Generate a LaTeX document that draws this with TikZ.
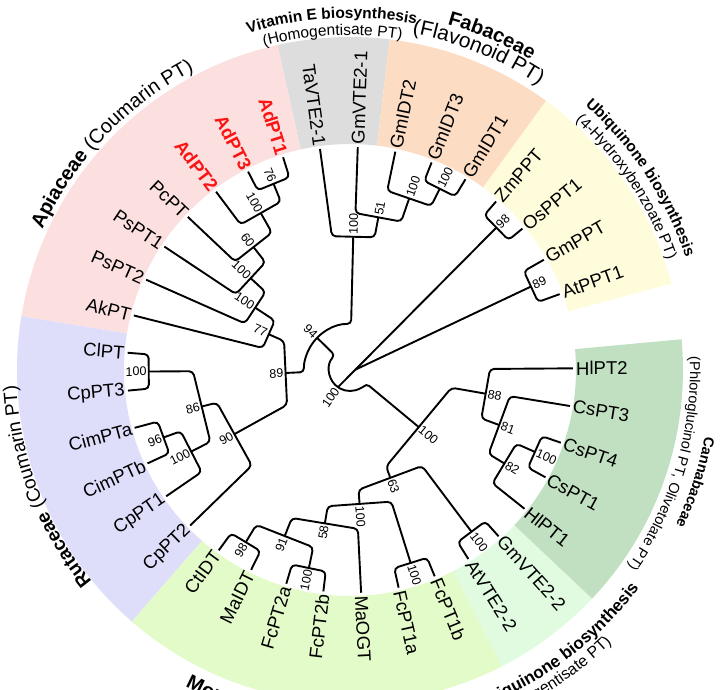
\documentclass[tikz,border=0pt]{standalone}
\usepackage{fontspec}
\setmainfont{Liberation Sans}
\usetikzlibrary{calc, decorations.text}

\definecolor{apiband}{RGB}{252,224,224}
\definecolor{vitband}{RGB}{221,221,221}
\definecolor{fabband}{RGB}{252,221,196}
\definecolor{ubqband}{RGB}{255,252,220}
\definecolor{canband}{RGB}{193,224,193}
\definecolor{hgaband}{RGB}{225,251,225}
\definecolor{morband}{RGB}{227,250,201}
\definecolor{rutband}{RGB}{222,222,250}
\definecolor{adred}{RGB}{250,20,20}

\newcommand{\tipsize}{\fontsize{18.5}{21}\selectfont}
\newcommand{\bssize}{\fontsize{12.5}{14}\selectfont}
\newcommand{\famsize}{\fontsize{20}{24}\selectfont}
\newcommand{\subsize}{\fontsize{15.5}{18}\selectfont}
\newcommand{\cansize}{\fontsize{14.5}{17}\selectfont}

\begin{document}
\begin{tikzpicture}[x=1pt, y=1pt,
    branch/.style={line width=1.9pt, rounded corners=4pt, line join=round},
    tipR/.style={anchor=west, inner sep=3pt, font=\tipsize},
    tipL/.style={anchor=east, inner sep=3pt, font=\tipsize},
    tipAd/.style={tipL, font=\tipsize\bfseries, text=adred},
    bsR/.style={anchor=west, inner sep=2pt, font=\bssize},
    bsL/.style={anchor=east, inner sep=2pt, font=\bssize},
    cladetext/.style={decorate, decoration={text along path, text align=center, text={#1}}}
  ]
  \useasboundingbox (-350,-319) rectangle (370,370);
  \clip (-350,-319) rectangle (370,370);

  % coloured bands
  \fill[vitband] (83.14:226) arc[start angle=83.14, end angle=102.59, radius=226] -- (102.59:333) arc[start angle=102.59, end angle=83.14, radius=333] -- cycle;
  \fill[apiband] (102.59:226) arc[start angle=102.59, end angle=170.70, radius=226] -- (170.70:333) arc[start angle=170.70, end angle=102.59, radius=333] -- cycle;
  \fill[rutband] (170.70:226) arc[start angle=170.70, end angle=229.08, radius=226] -- (229.08:333) arc[start angle=229.08, end angle=170.70, radius=333] -- cycle;
  \fill[morband] (229.08:226) arc[start angle=229.08, end angle=297.19, radius=226] -- (297.19:333) arc[start angle=297.19, end angle=229.08, radius=333] -- cycle;
  \fill[hgaband] (297.19:226) arc[start angle=297.19, end angle=316.65, radius=226] -- (316.65:333) arc[start angle=316.65, end angle=297.19, radius=333] -- cycle;
  \fill[canband] (316.65:226) arc[start angle=316.65, end angle=365.30, radius=226] -- (365.30:333) arc[start angle=365.30, end angle=316.65, radius=333] -- cycle;
  \fill[ubqband] (15.03:226) arc[start angle=15.03, end angle=53.95, radius=226] -- (53.95:333) arc[start angle=53.95, end angle=15.03, radius=333] -- cycle;
  \fill[fabband] (53.95:226) arc[start angle=53.95, end angle=83.14, radius=226] -- (83.14:333) arc[start angle=83.14, end angle=53.95, radius=333] -- cycle;

  % tips
  \node[tipR, rotate=88.00] (GmVTEa) at (88.00:223) {GmVTE2-1};
  \node[tipR, rotate=78.27] (GmIDT2) at (78.27:223) {GmIDT2};
  \node[tipR, rotate=68.54] (GmIDT3) at (68.54:223) {GmIDT3};
  \node[tipR, rotate=58.81] (GmIDT1) at (58.81:223) {GmIDT1};
  \node[tipR, rotate=49.08] (ZmPPT) at (49.08:223) {ZmPPT};
  \node[tipR, rotate=39.35] (OsPPT1) at (39.35:223) {OsPPT1};
  \node[tipR, rotate=29.62] (GmPPT) at (29.62:223) {GmPPT};
  \node[tipR, rotate=19.89] (AtPPT1) at (19.89:223) {AtPPT1};
  \node[tipR, rotate=0.43] (HlPT2) at (0.43:223) {HlPT2};
  \node[tipR, rotate=-9.30] (CsPT3) at (350.70:223) {CsPT3};
  \node[tipR, rotate=-19.03] (CsPT4) at (340.97:223) {CsPT4};
  \node[tipR, rotate=-28.76] (CsPT1) at (331.24:223) {CsPT1};
  \node[tipR, rotate=-38.49] (HlPT1) at (321.51:223) {HlPT1};
  \node[tipR, rotate=-48.22] (GmVTEb) at (311.78:223) {GmVTE2-2};
  \node[tipR, rotate=-57.95] (AtVTE) at (302.05:223) {AtVTE2-2};
  \node[tipR, rotate=-67.68] (FcPT1b) at (292.32:223) {FcPT1b};
  \node[tipR, rotate=-77.41] (FcPT1a) at (282.59:223) {FcPT1a};
  \node[tipR, rotate=-87.14] (MaOGT) at (272.86:223) {MaOGT};
  \node[tipL, rotate=83.14] (FcPT2b) at (263.14:223) {FcPT2b};
  \node[tipL, rotate=73.40] (FcPT2a) at (253.40:223) {FcPT2a};
  \node[tipL, rotate=63.68] (MaIDT) at (243.68:223) {MaIDT};
  \node[tipL, rotate=53.95] (CtIDT) at (233.95:223) {CtIDT};
  \node[tipL, rotate=44.22] (CpPT2) at (224.22:223) {CpPT2};
  \node[tipL, rotate=34.49] (CpPT1) at (214.49:223) {CpPT1};
  \node[tipL, rotate=24.76] (CimPTb) at (204.76:223) {CimPTb};
  \node[tipL, rotate=15.03] (CimPTa) at (195.03:223) {CimPTa};
  \node[tipL, rotate=5.30] (CpPT3) at (185.30:223) {CpPT3};
  \node[tipL, rotate=-4.43] (ClPT) at (175.57:223) {ClPT};
  \node[tipL, rotate=-14.16] (AkPT) at (165.84:223) {AkPT};
  \node[tipL, rotate=-23.89] (PsPT2) at (156.11:223) {PsPT2};
  \node[tipL, rotate=-33.62] (PsPT1) at (146.38:223) {PsPT1};
  \node[tipL, rotate=-43.35] (PcPT) at (136.65:223) {PcPT};
  \node[tipAd, rotate=-53.08] (AdPT2) at (126.92:223) {AdPT2};
  \node[tipAd, rotate=-62.81] (AdPT3) at (117.19:223) {AdPT3};
  \node[tipAd, rotate=-72.54] (AdPT1) at (107.46:223) {AdPT1};
  \node[tipL, rotate=-82.27] (TaVTE) at (97.73:223) {TaVTE2-1};

  % vitamin E and Fabaceae clade
  \coordinate (f31a) at (68.54:203); \coordinate (f31b) at (58.81:203);
  \coordinate (f31) at ($(f31a)!.5!(f31b)$);
  \draw[branch] (GmIDT3.west) -- (f31a) -- (f31b) -- (GmIDT1.west);
  \coordinate (f2a) at (78.27:183); \coordinate (f2b) at (63.68:183);
  \coordinate (f2) at ($(f2a)!.5!(f2b)$);
  \draw[branch] (GmIDT2.west) -- (f2a) -- (f2b) -- (f31);
  \coordinate (v51a) at (88.00:157); \coordinate (v51b) at (70.97:157);
  \coordinate (v51) at ($(v51a)!.5!(v51b)$);
  \draw[branch] (GmVTEa.west) -- (v51a) -- (v51b) -- (f2);
  \coordinate (v1a) at (97.73:135); \coordinate (v1b) at (79.49:135);
  \coordinate (v1) at ($(v1a)!.5!(v1b)$);
  \draw[branch] (TaVTE.east) -- (v1a) -- (v1b) -- (v51);

  % Apiaceae
  \coordinate (a76a) at (107.46:202); \coordinate (a76b) at (117.19:202);
  \coordinate (a76) at ($(a76a)!.5!(a76b)$);
  \draw[branch] (AdPT1.east) -- (a76a) -- (a76b) -- (AdPT3.east);
  \coordinate (aAda) at (112.33:182); \coordinate (aAdb) at (126.92:182);
  \coordinate (aAd) at ($(aAda)!.5!(aAdb)$);
  \draw[branch] (a76) -- (aAda) -- (aAdb) -- (AdPT2.east);
  \coordinate (a60a) at (119.62:158); \coordinate (a60b) at (136.65:158);
  \coordinate (a60) at ($(a60a)!.5!(a60b)$);
  \draw[branch] (aAd) -- (a60a) -- (a60b) -- (PcPT.east);
  \coordinate (aPs1a) at (128.14:137); \coordinate (aPs1b) at (146.38:137);
  \coordinate (aPs1) at ($(aPs1a)!.5!(aPs1b)$);
  \draw[branch] (a60) -- (aPs1a) -- (aPs1b) -- (PsPT1.east);
  \coordinate (aPs2a) at (137.26:115); \coordinate (aPs2b) at (156.11:115);
  \coordinate (aPs2) at ($(aPs2a)!.5!(aPs2b)$);
  \draw[branch] (aPs1) -- (aPs2a) -- (aPs2b) -- (PsPT2.east);
  \coordinate (a77a) at (146.69:90); \coordinate (a77b) at (165.84:90);
  \coordinate (a77) at ($(a77a)!.5!(a77b)$);
  \draw[branch] (aPs2) -- (a77a) -- (a77b) -- (AkPT.east);

  % Rutaceae
  \coordinate (rCla) at (175.57:202); \coordinate (rClb) at (185.30:202);
  \coordinate (rCl) at ($(rCla)!.5!(rClb)$);
  \draw[branch] (ClPT.east) -- (rCla) -- (rClb) -- (CpPT3.east);
  \coordinate (rCima) at (195.03:199); \coordinate (rCimb) at (204.76:199);
  \coordinate (rCim) at ($(rCima)!.5!(rCimb)$);
  \draw[branch] (CimPTa.east) -- (rCima) -- (rCimb) -- (CimPTb.east);
  \coordinate (rCpa) at (199.90:180); \coordinate (rCpb) at (214.49:180);
  \coordinate (rCp) at ($(rCpa)!.5!(rCpb)$);
  \draw[branch] (rCim) -- (rCpa) -- (rCpb) -- (CpPT1.east);
  \coordinate (r86a) at (180.44:157); \coordinate (r86b) at (207.20:157);
  \coordinate (r86) at ($(r86a)!.5!(r86b)$);
  \draw[branch] (rCl) -- (r86a) -- (r86b) -- (rCp);
  \coordinate (r90a) at (193.82:137); \coordinate (r90b) at (224.22:137);
  \coordinate (r90) at ($(r90a)!.5!(r90b)$);
  \draw[branch] (r86) -- (r90a) -- (r90b) -- (CpPT2.east);
  \coordinate (c89a) at (156.26:72); \coordinate (c89b) at (209.02:72);
  \coordinate (c89) at ($(c89a)!.5!(c89b)$);
  \draw[branch] (a77) -- (c89a) -- (c89b) -- (r90);
  \coordinate (n94) at (135.63:46);
  \draw[branch] (v1) -- (88.61:46) arc[start angle=88.61, end angle=182.64, radius=46] -- (c89);

  % ubiquinone (4-hydroxybenzoate PT)
  \coordinate (u98a) at (49.08:205); \coordinate (u98b) at (39.35:205);
  \coordinate (u98) at ($(u98a)!.5!(u98b)$);
  \draw[branch] (ZmPPT.west) -- (u98a) -- (u98b) -- (OsPPT1.west);
  \coordinate (u89a) at (29.62:200); \coordinate (u89b) at (19.89:200);
  \coordinate (u89) at ($(u89a)!.5!(u89b)$);
  \draw[branch] (GmPPT.west) -- (u89a) -- (u89b) -- (AtPPT1.west);

  % Cannabaceae
  \coordinate (h100a) at (340.97:203); \coordinate (h100b) at (331.24:203);
  \coordinate (h100) at ($(h100a)!.5!(h100b)$);
  \draw[branch] (CsPT4.west) -- (h100a) -- (h100b) -- (CsPT1.west);
  \coordinate (h82a) at (336.11:182); \coordinate (h82b) at (321.51:182);
  \coordinate (h82) at ($(h82a)!.5!(h82b)$);
  \draw[branch] (h100) -- (h82a) -- (h82b) -- (HlPT1.west);
  \coordinate (h81a) at (350.70:162); \coordinate (h81b) at (328.81:162);
  \coordinate (h81) at ($(h81a)!.5!(h81b)$);
  \draw[branch] (CsPT3.west) -- (h81a) -- (h81b) -- (h82);
  \coordinate (h88a) at (360.43:140); \coordinate (h88b) at (339.76:140);
  \coordinate (h88) at ($(h88a)!.5!(h88b)$);
  \draw[branch] (HlPT2.west) -- (h88a) -- (h88b) -- (h81);

  % homogentisate PT and Moraceae
  \coordinate (g100a) at (311.78:203); \coordinate (g100b) at (302.05:203);
  \coordinate (g100) at ($(g100a)!.5!(g100b)$);
  \draw[branch] (GmVTEb.west) -- (g100a) -- (g100b) -- (AtVTE.west);
  \coordinate (m98a) at (233.95:202); \coordinate (m98b) at (243.68:202);
  \coordinate (m98) at ($(m98a)!.5!(m98b)$);
  \draw[branch] (CtIDT.east) -- (m98a) -- (m98b) -- (MaIDT.east);
  \coordinate (mF2a) at (253.40:203); \coordinate (mF2b) at (263.14:203);
  \coordinate (mF2) at ($(mF2a)!.5!(mF2b)$);
  \draw[branch] (FcPT2a.east) -- (mF2a) -- (mF2b) -- (FcPT2b.east);
  \coordinate (m91a) at (238.82:181); \coordinate (m91b) at (258.27:181);
  \coordinate (m91) at ($(m91a)!.5!(m91b)$);
  \draw[branch] (m98) -- (m91a) -- (m91b) -- (mF2);
  \coordinate (m58a) at (248.55:159); \coordinate (m58b) at (272.86:159);
  \coordinate (m58) at ($(m58a)!.5!(m58b)$);
  \draw[branch] (m91) -- (m58a) -- (m58b) -- (MaOGT.west);
  \coordinate (mF1a) at (282.59:203); \coordinate (mF1b) at (292.32:203);
  \coordinate (mF1) at ($(mF1a)!.5!(mF1b)$);
  \draw[branch] (FcPT1a.west) -- (mF1a) -- (mF1b) -- (FcPT1b.west);
  \coordinate (mora) at (260.71:138); \coordinate (morb) at (287.46:138);
  \coordinate (mor) at ($(mora)!.5!(morb)$);
  \draw[branch] (m58) -- (mora) -- (morb) -- (mF1);
  \coordinate (n63a) at (274.09:120); \coordinate (n63b) at (306.92:120);
  \coordinate (n63) at ($(n63a)!.5!(n63b)$);
  \draw[branch] (mor) -- (n63a) -- (n63b) -- (g100);
  \coordinate (nRa) at (350.10:103); \coordinate (nRb) at (290.51:103);
  \coordinate (nR) at ($(nRa)!.5!(nRb)$);
  \draw[branch] (h88) -- (nRa) -- (nRb) -- (n63);

  % root
  \coordinate (root) at (235:21);
  \draw[branch] (n94) -- (135.63:21) arc[start angle=135.63, end angle=320.3, radius=21] -- (nR);
  \coordinate (u0) at ($(root)!.11!(u98)$);
  \draw[branch] (root) -- (u98);
  \draw[branch] (u0) -- (u89);

  % support values
  \node[bsR, rotate=63.68] at (f31) {100};
  \node[bsR, rotate=70.97] at (f2) {100};
  \node[bsR, rotate=79.49] at (v51) {51};
  \node[bsR, rotate=88.61] at (v1) {100};
  \node[bsL, rotate=-67.67] at (a76) {76};
  \node[bsL, rotate=-60.38] at (aAd) {100};
  \node[bsL, rotate=-51.86] at (a60) {60};
  \node[bsL, rotate=-42.74] at (aPs1) {100};
  \node[bsL, rotate=-33.31] at (aPs2) {100};
  \node[bsL, rotate=-23.74] at (a77) {77};
  \node[bsL, rotate=0.44] at (rCl) {100};
  \node[bsL, rotate=19.90] at (rCim) {96};
  \node[bsL, rotate=27.20] at (rCp) {100};
  \node[bsL, rotate=13.82] at (r86) {86};
  \node[bsL, rotate=29.02] at (r90) {90};
  \node[bsL, rotate=2.64] at (c89) {89};
  \node[bsL, rotate=-44.37] at (n94) {94};
  \node[bsR, rotate=44.22] at (u98) {98};
  \node[bsR, rotate=24.76] at (u89) {89};
  \node[bsR, rotate=-23.89] at (h100) {100};
  \node[bsR, rotate=-31.19] at (h82) {82};
  \node[bsR, rotate=-20.24] at (h81) {81};
  \node[bsR, rotate=-9.90] at (h88) {88};
  \node[bsR, rotate=-53.08] at (g100) {100};
  \node[bsL, rotate=58.82] at (m98) {98};
  \node[bsL, rotate=78.27] at (mF2) {100};
  \node[bsL, rotate=68.55] at (m91) {91};
  \node[bsL, rotate=80.71] at (m58) {58};
  \node[bsR, rotate=-72.54] at (mF1) {100};
  \node[bsR, rotate=-85.91] at (mor) {100};
  \node[bsR, rotate=-69.49] at (n63) {63};
  \node[bsR, rotate=-39.70] at (nR) {100};
  \node[bsL, rotate=55] at (root) {100};

  % clade captions
  \path[cladetext={|\famsize\bfseries|Apiaceae |\famsize|(Coumarin PT)}] (165:338) arc[start angle=165, end angle=108, radius=338];
  \path[cladetext={|\fontsize{19}{22}\selectfont\bfseries|Rutaceae |\fontsize{19}{22}\selectfont|(Coumarin PT)}] (230:334) arc[start angle=230, end angle=172, radius=334];
  \path[cladetext={|\subsize\bfseries|Vitamin E biosynthesis}] (120:352) arc[start angle=120, end angle=66, radius=352];
  \path[cladetext={|\subsize|(Homogentisate PT)}] (120:335) arc[start angle=120, end angle=66, radius=335];
  \path[cladetext={|\famsize\bfseries|Fabaceae}] (94:359) arc[start angle=94, end angle=40, radius=359];
  \path[cladetext={|\fontsize{21}{24}\selectfont|(Flavonoid PT)}] (95:342) arc[start angle=95, end angle=41, radius=342];
  \path[cladetext={|\subsize\bfseries|Ubiquinone biosynthesis}] (63:354) arc[start angle=63, end angle=4, radius=354];
  \path[cladetext={|\subsize|(4-Hydroxybenzoate PT)}] (63:336) arc[start angle=63, end angle=4, radius=336];
  \path[cladetext={|\cansize\bfseries|Cannabaceae}] (12:361) arc[start angle=12, end angle=-48, radius=361];
  \path[cladetext={|\cansize|(Phloroglucinol PT{,} Olivetolate PT)}] (14:340) arc[start angle=14, end angle=-47, radius=340];
  \path[cladetext={|\fontsize{17}{20}\selectfont\bfseries|Ubiquinone biosynthesis}] (-81:362) arc[start angle=-81, end angle=-25, radius=362];
  \path[cladetext={|\fontsize{16}{19}\selectfont|(Homogentisate PT)}] (-85:378) arc[start angle=-85, end angle=-29, radius=378];
  \path[decorate, decoration={text along path, text align=left, text={|\famsize\bfseries|Moraceae}}] (242.5:357) arc[start angle=242.5, end angle=300, radius=357];
\end{tikzpicture}
\end{document}
